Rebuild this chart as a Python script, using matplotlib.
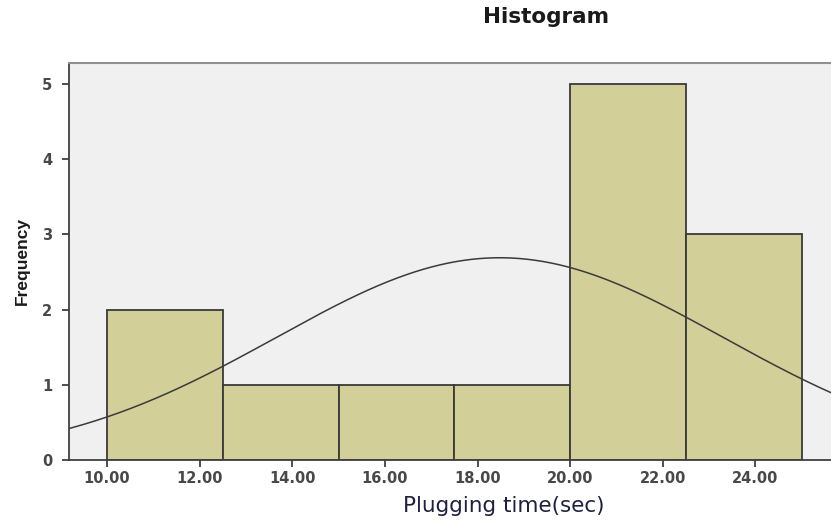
import numpy as np
import matplotlib.pyplot as plt

# histogram bins and counts
bin_edges = [10.0, 12.5, 15.0, 17.5, 20.0, 22.5, 25.0]
counts = [2, 1, 1, 1, 5, 3]
xticks = [10, 12, 14, 16, 18, 20, 22, 24]
yticks = [0, 1, 2, 3, 4, 5]

# normal curve parameters (as fitted)
mean_val = 18.48
std_val = 4.82
n_obs = 13

fig = plt.figure(figsize=(8.31, 5.21), dpi=100)
ax = fig.add_axes([69 / 831, 1 - 460 / 521, 1 - 69 / 831, (460 - 63) / 521])
ax.set_facecolor('#f0f0f0')

widths = np.diff(bin_edges)
ax.bar(bin_edges[:-1], counts, width=widths, align='edge',
       color='#d3cf99', edgecolor='#3a3a3a', linewidth=1.3, zorder=2)

xs = np.linspace(9.0, 26.0, 400)
bw = bin_edges[1] - bin_edges[0]
ys = n_obs * bw / (std_val * np.sqrt(2 * np.pi)) * np.exp(-0.5 * ((xs - mean_val) / std_val) ** 2)
ax.plot(xs, ys, color='#3a3a3a', linewidth=1.1, zorder=3)

ax.set_xlim(9.18, 25.63)
ax.set_ylim(0, 5.28)
ax.set_xticks(xticks)
ax.set_xticklabels([f'{t:.2f}' for t in xticks])
ax.set_yticks(yticks)

ax.spines['right'].set_visible(False)
ax.spines['top'].set_color('#909090')
ax.spines['top'].set_linewidth(1.5)
for s in ['left', 'bottom']:
    ax.spines[s].set_color('#404040')
    ax.spines[s].set_linewidth(1.3)

ax.tick_params(axis='both', direction='out', length=5, width=1.3, color='#404040',
               labelsize=10.5, labelcolor='#484848')
ax.tick_params(axis='y', pad=7)
ax.tick_params(axis='x', pad=3)
for lbl in ax.get_xticklabels() + ax.get_yticklabels():
    lbl.set_fontfamily('DejaVu Sans')
    lbl.set_fontweight('semibold')

fig.text(546 / 831, 1 - 17 / 521, 'Histogram', ha='center', va='center',
         fontsize=15.5, fontweight='bold', family='DejaVu Sans', color='#1a1a1a')
fig.text(504 / 831, 1 - 506 / 521, 'Plugging time(sec)', ha='center', va='center',
         fontsize=15.5, family='DejaVu Sans', color='#1e2040')
fig.text(22 / 831, 1 - 261 / 521, 'Frequency', ha='center', va='center', rotation=90,
         fontsize=12.5, fontweight='bold', family='Liberation Sans', color='#1a1a1a')

fig.savefig('out.png', dpi=100)
